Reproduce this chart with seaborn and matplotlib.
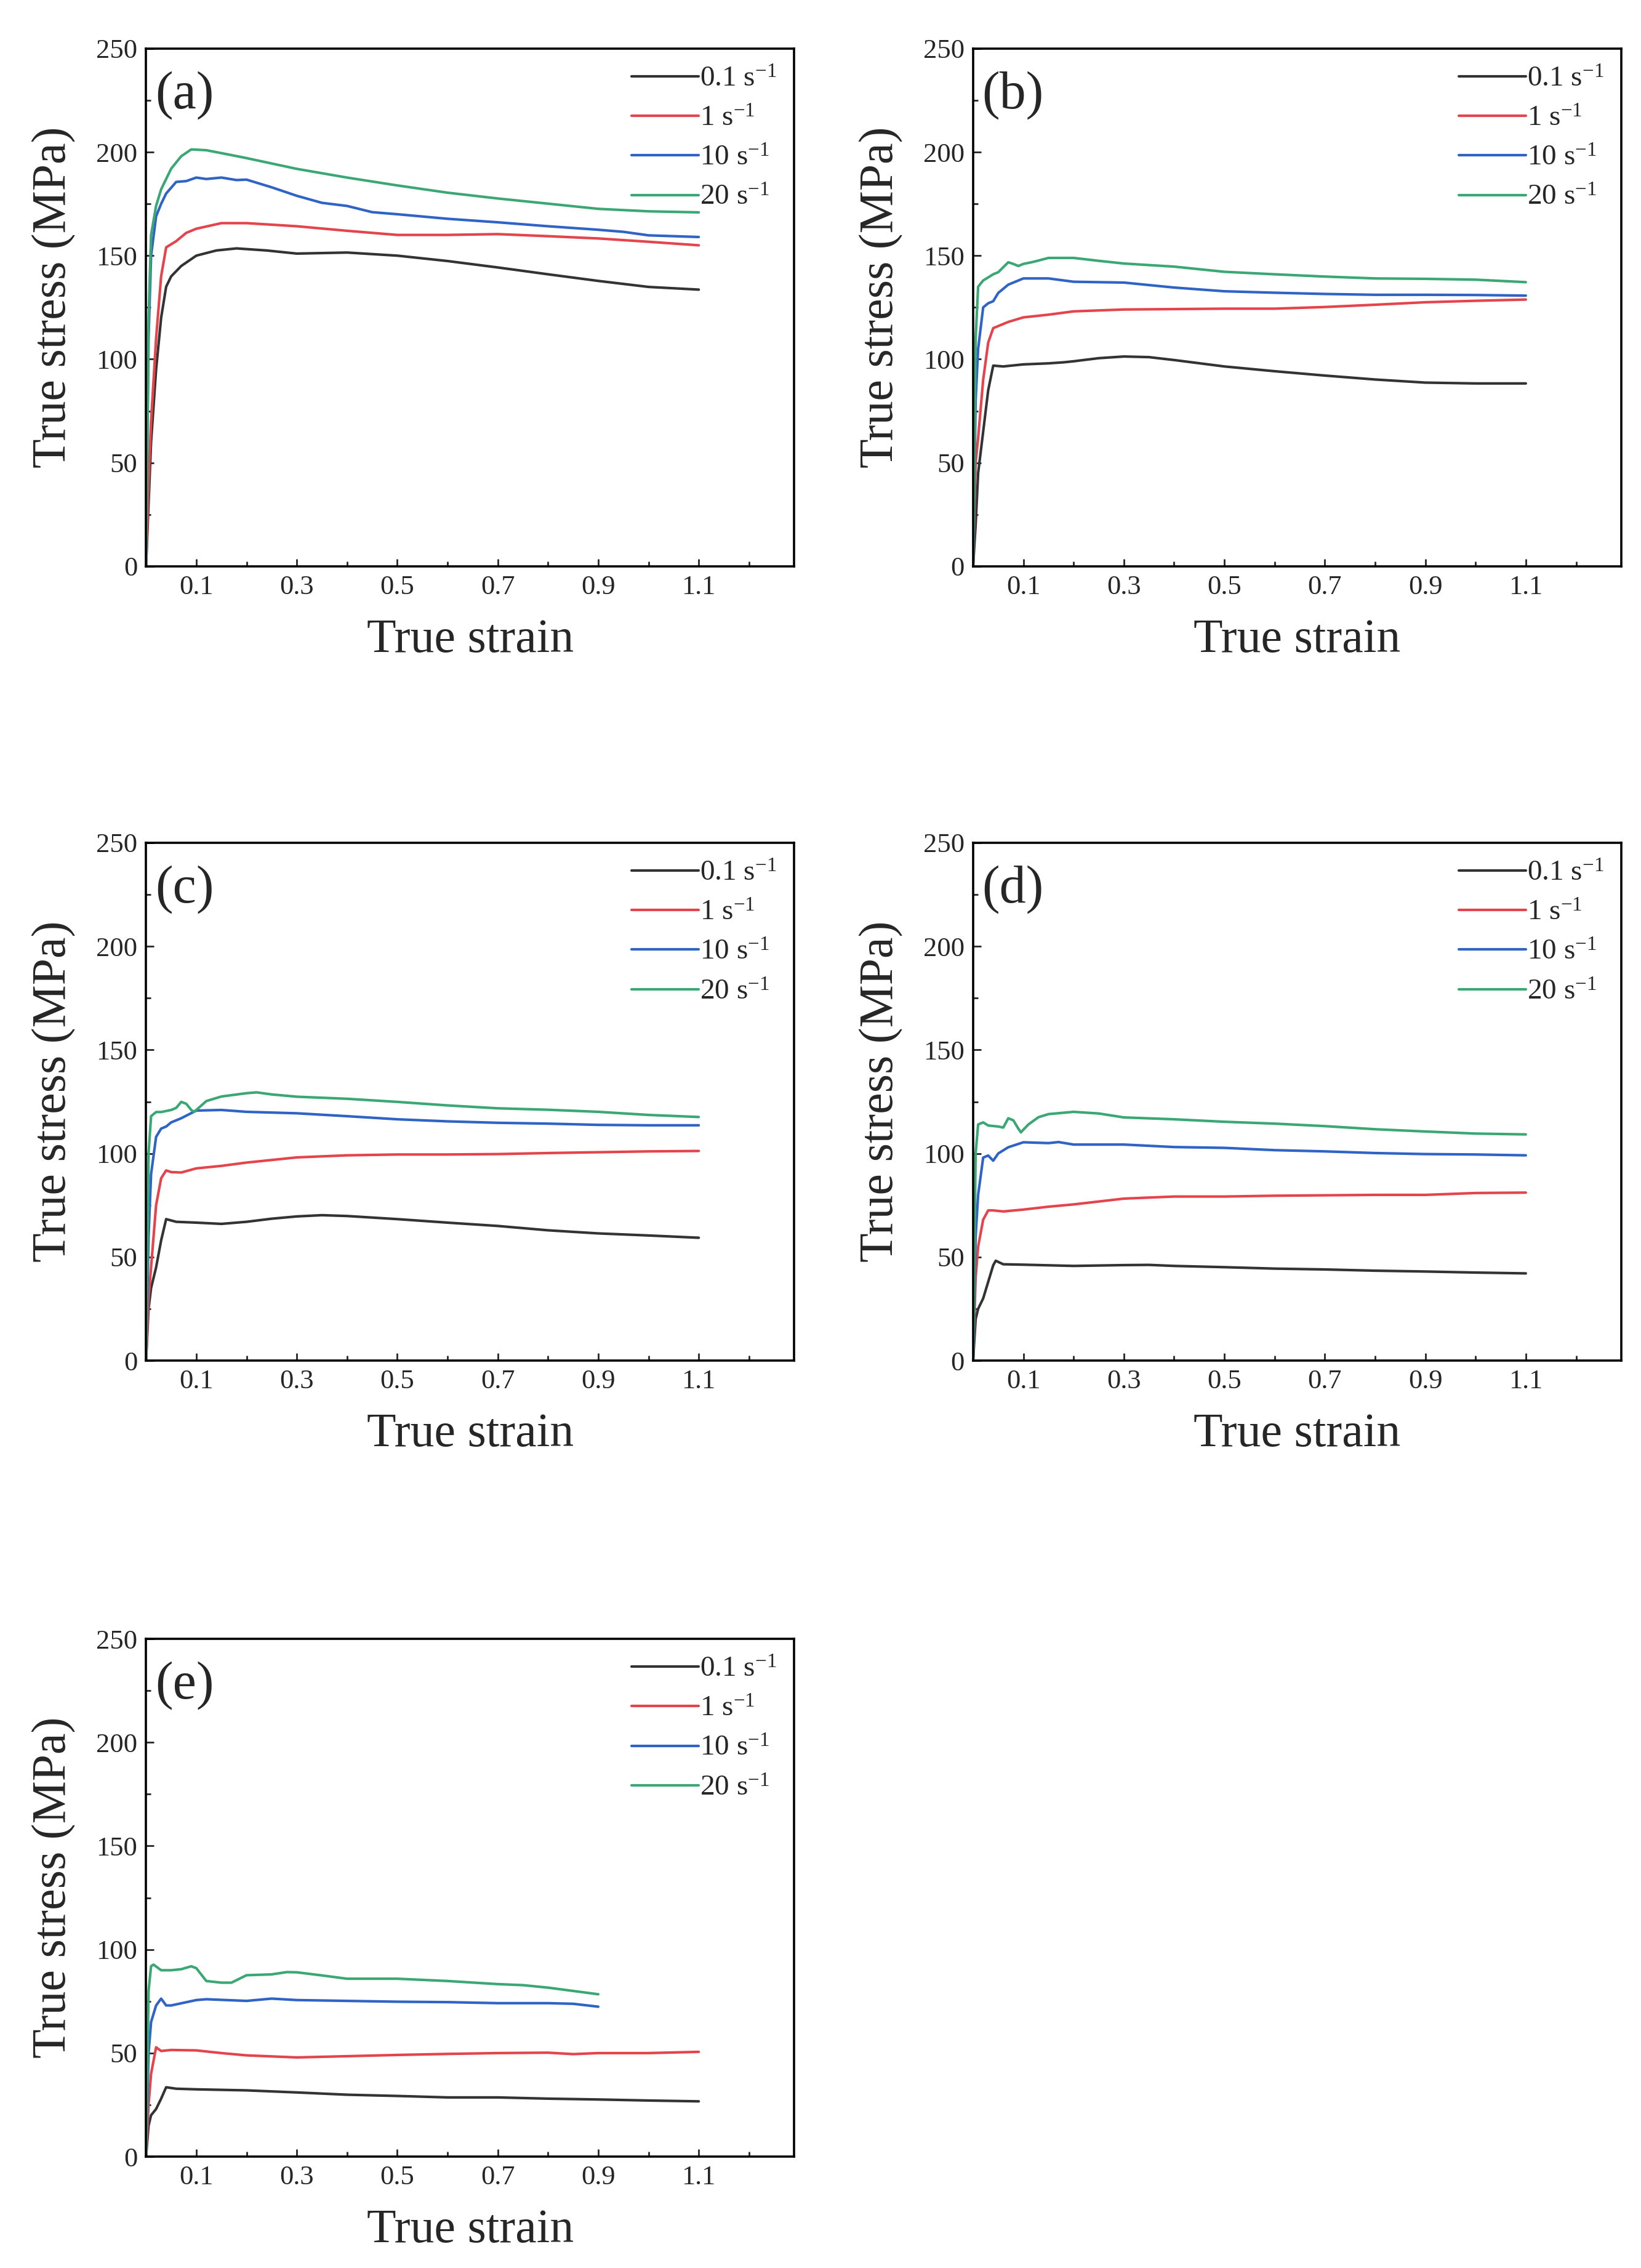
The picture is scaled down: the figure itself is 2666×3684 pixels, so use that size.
import pandas as pd
import seaborn as sns
import matplotlib.pyplot as plt
from matplotlib.lines import Line2D
from matplotlib.ticker import MultipleLocator

# Strain rates and colours
rates = ["0.1", "1", "10", "20"]
rate_labels = [r"0.1 $\mathregular{s^{-1}}$", r"1 $\mathregular{s^{-1}}$",
               r"10 $\mathregular{s^{-1}}$", r"20 $\mathregular{s^{-1}}$"]
rate_colors = ["#333333", "#e4444b", "#2f64c6", "#3aa774"]

# (a)
a01_x = [0, 0.005, 0.01, 0.02, 0.03, 0.04, 0.05, 0.07, 0.1, 0.14, 0.18, 0.24, 0.3, 0.4, 0.5, 0.6, 0.7, 0.8, 0.9, 1.0, 1.1]
a01_y = [0, 30, 60, 95, 120, 135, 140, 145, 150, 152.5, 153.5, 152.5, 151, 151.5, 150, 147.4, 144.3, 141, 137.8, 134.9, 133.6]
a1_x = [0, 0.005, 0.01, 0.02, 0.03, 0.04, 0.06, 0.08, 0.1, 0.15, 0.2, 0.3, 0.4, 0.5, 0.6, 0.7, 0.8, 0.9, 1.0, 1.1]
a1_y = [0, 40, 70, 110, 140, 154, 157, 161, 163, 165.7, 165.7, 164.2, 162, 160, 160, 160.4, 159.4, 158.3, 156.7, 155]
a10_x = [0, 0.005, 0.01, 0.02, 0.03, 0.04, 0.06, 0.08, 0.1, 0.12, 0.15, 0.18, 0.2, 0.25, 0.3, 0.35, 0.4, 0.45, 0.5, 0.6, 0.7, 0.8, 0.9, 0.95, 1.0, 1.1]
a10_y = [0, 110, 150, 169, 175, 180, 185.6, 186, 187.7, 187, 187.7, 186.5, 186.7, 183, 178.9, 175.5, 174, 171, 170, 167.8, 166.1, 164.2, 162.5, 161.5, 159.8, 159]
a20_x = [0, 0.005, 0.01, 0.02, 0.03, 0.05, 0.07, 0.09, 0.12, 0.15, 0.2, 0.3, 0.4, 0.5, 0.6, 0.7, 0.8, 0.9, 1.0, 1.1]
a20_y = [0, 120, 160, 174, 182, 192, 198, 201.3, 200.9, 199.5, 197.1, 191.9, 187.7, 183.9, 180.4, 177.6, 175.1, 172.6, 171.4, 170.9]

# (b)
b01_x = [0, 0.005, 0.01, 0.02, 0.03, 0.04, 0.06, 0.1, 0.15, 0.18, 0.2, 0.25, 0.3, 0.35, 0.4, 0.5, 0.6, 0.7, 0.8, 0.9, 1.0, 1.1]
b01_y = [0, 20, 45, 65, 85, 96.9, 96.5, 97.5, 98, 98.5, 99, 100.5, 101.3, 101, 99.6, 96.5, 94.2, 92.1, 90.2, 88.7, 88.3, 88.3]
b1_x = [0, 0.005, 0.01, 0.02, 0.03, 0.04, 0.05, 0.07, 0.1, 0.15, 0.2, 0.3, 0.4, 0.5, 0.6, 0.7, 0.8, 0.9, 1.0, 1.1]
b1_y = [0, 50, 62, 90, 108, 115, 116, 118, 120.2, 121.5, 123.1, 124, 124.2, 124.4, 124.4, 125.2, 126.3, 127.5, 128.2, 128.8]
b10_x = [0, 0.005, 0.01, 0.02, 0.03, 0.04, 0.05, 0.07, 0.1, 0.15, 0.2, 0.3, 0.4, 0.5, 0.6, 0.7, 0.8, 0.9, 1.0, 1.1]
b10_y = [0, 80, 105, 125, 127, 128, 132, 136, 139, 139, 137.4, 137, 134.6, 132.8, 132.1, 131.5, 131.1, 131.1, 131, 130.7]
b20_x = [0, 0.005, 0.01, 0.02, 0.04, 0.05, 0.07, 0.08, 0.09, 0.1, 0.12, 0.15, 0.2, 0.25, 0.3, 0.4, 0.5, 0.6, 0.7, 0.8, 0.9, 1.0, 1.1]
b20_y = [0, 110, 135, 138, 141, 142, 146.8, 146, 145, 146, 147, 148.9, 148.9, 147.5, 146.2, 144.7, 142.2, 141, 139.9, 139, 138.8, 138.4, 137.2]

# (c)
c01_x = [0, 0.005, 0.01, 0.02, 0.03, 0.04, 0.06, 0.1, 0.15, 0.2, 0.25, 0.3, 0.35, 0.4, 0.5, 0.6, 0.7, 0.8, 0.9, 1.0, 1.1]
c01_y = [0, 25, 35, 45, 58, 68.3, 67, 66.6, 66, 67, 68.5, 69.6, 70.2, 69.8, 68.3, 66.6, 65, 62.9, 61.4, 60.4, 59.3]
c1_x = [0, 0.005, 0.01, 0.02, 0.03, 0.04, 0.05, 0.07, 0.1, 0.15, 0.2, 0.3, 0.4, 0.5, 0.6, 0.7, 0.8, 0.9, 1.0, 1.1]
c1_y = [0, 30, 45, 75, 88, 91.8, 91, 90.8, 92.8, 94, 95.6, 98.1, 99.1, 99.5, 99.5, 99.7, 100.2, 100.6, 101, 101.2]
c10_x = [0, 0.005, 0.01, 0.02, 0.03, 0.04, 0.05, 0.07, 0.1, 0.15, 0.2, 0.3, 0.4, 0.5, 0.6, 0.7, 0.8, 0.9, 1.0, 1.1]
c10_y = [0, 60, 90, 108, 112, 113, 115, 117, 120.7, 121, 120.1, 119.4, 118, 116.5, 115.5, 114.8, 114.4, 113.8, 113.6, 113.6]
c20_x = [0, 0.005, 0.01, 0.02, 0.03, 0.05, 0.06, 0.07, 0.08, 0.09, 0.095, 0.1, 0.12, 0.15, 0.2, 0.22, 0.25, 0.3, 0.4, 0.5, 0.6, 0.7, 0.8, 0.9, 1.0, 1.1]
c20_y = [0, 100, 118, 120, 120, 121, 122, 124.9, 124, 121, 120.1, 121, 125.3, 127.5, 129.1, 129.5, 128.5, 127.4, 126.4, 124.9, 123.2, 121.8, 121.1, 120.1, 118.6, 117.6]

# (d)
d01_x = [0, 0.005, 0.01, 0.02, 0.03, 0.04, 0.045, 0.06, 0.1, 0.2, 0.3, 0.35, 0.4, 0.5, 0.6, 0.7, 0.8, 0.9, 1.0, 1.1]
d01_y = [0, 20, 25, 30, 38, 46, 48.2, 46.5, 46.3, 45.7, 46.1, 46.2, 45.7, 45.1, 44.4, 44, 43.4, 43, 42.5, 42.1]
d1_x = [0, 0.005, 0.01, 0.02, 0.03, 0.04, 0.06, 0.1, 0.15, 0.2, 0.3, 0.4, 0.5, 0.6, 0.7, 0.8, 0.9, 1.0, 1.1]
d1_y = [0, 40, 55, 68, 72.5, 72.5, 72, 72.9, 74.3, 75.4, 78.2, 79.2, 79.2, 79.6, 79.8, 80, 80, 80.9, 81.1]
d10_x = [0, 0.005, 0.01, 0.02, 0.03, 0.04, 0.05, 0.07, 0.1, 0.15, 0.17, 0.2, 0.3, 0.4, 0.5, 0.6, 0.7, 0.8, 0.9, 1.0, 1.1]
d10_y = [0, 60, 80, 98, 99, 96.5, 100, 103, 105.4, 105, 105.5, 104.3, 104.3, 103.1, 102.7, 101.6, 101, 100.2, 99.7, 99.5, 99.1]
d20_x = [0, 0.005, 0.01, 0.02, 0.03, 0.05, 0.06, 0.07, 0.08, 0.09, 0.095, 0.11, 0.13, 0.15, 0.2, 0.25, 0.3, 0.4, 0.5, 0.6, 0.7, 0.8, 0.9, 1.0, 1.1]
d20_y = [0, 100, 114, 115, 113.5, 113, 112.5, 117, 116, 112, 110.2, 114, 117.5, 119, 120.1, 119.3, 117.4, 116.5, 115.3, 114.4, 113.2, 111.7, 110.6, 109.6, 109.2]

# (e)
e01_x = [0, 0.005, 0.01, 0.02, 0.03, 0.04, 0.06, 0.1, 0.2, 0.3, 0.4, 0.5, 0.6, 0.7, 0.8, 0.9, 1.0, 1.1]
e01_y = [0, 15, 20, 23, 28, 33.5, 32.8, 32.5, 32, 31, 29.9, 29.3, 28.6, 28.6, 28, 27.6, 27.1, 26.7]
e1_x = [0, 0.005, 0.01, 0.02, 0.03, 0.05, 0.1, 0.15, 0.2, 0.3, 0.4, 0.5, 0.6, 0.7, 0.8, 0.85, 0.9, 1.0, 1.1]
e1_y = [0, 25, 40, 52.8, 51, 51.5, 51.3, 50, 48.9, 47.9, 48.5, 49.1, 49.6, 50, 50.2, 49.5, 50, 50, 50.6]
e10_x = [0, 0.005, 0.01, 0.02, 0.03, 0.04, 0.05, 0.1, 0.12, 0.2, 0.25, 0.3, 0.4, 0.5, 0.6, 0.7, 0.8, 0.85, 0.9]
e10_y = [0, 50, 65, 73, 76.3, 73, 73, 75.6, 76, 75.2, 76.3, 75.6, 75.2, 74.8, 74.6, 74.1, 74.1, 73.8, 72.4]
e20_x = [0, 0.005, 0.01, 0.015, 0.03, 0.05, 0.07, 0.09, 0.1, 0.12, 0.15, 0.17, 0.2, 0.25, 0.28, 0.3, 0.35, 0.4, 0.5, 0.6, 0.7, 0.75, 0.8, 0.9]
e20_y = [0, 80, 92, 92.7, 90, 90, 90.5, 91.9, 91, 84.8, 84, 84, 87.6, 88, 89.1, 89, 87.5, 85.9, 85.9, 84.8, 83.3, 82.8, 81.6, 78.4]

panels = {
    "(a)": [(a01_x, a01_y), (a1_x, a1_y), (a10_x, a10_y), (a20_x, a20_y)],
    "(b)": [(b01_x, b01_y), (b1_x, b1_y), (b10_x, b10_y), (b20_x, b20_y)],
    "(c)": [(c01_x, c01_y), (c1_x, c1_y), (c10_x, c10_y), (c20_x, c20_y)],
    "(d)": [(d01_x, d01_y), (d1_x, d1_y), (d10_x, d10_y), (d20_x, d20_y)],
    "(e)": [(e01_x, e01_y), (e1_x, e1_y), (e10_x, e10_y), (e20_x, e20_y)],
}

sns.set_style("ticks")
plt.rcParams['font.family'] = ['Liberation Serif', 'DejaVu Serif']
plt.rcParams['mathtext.fontset'] = 'custom'
plt.rcParams['mathtext.rm'] = 'Liberation Serif'
plt.rcParams['mathtext.it'] = 'Liberation Serif:italic'

fig = plt.figure(figsize=(26.66, 36.84), dpi=100)

# axes rectangles (figure fraction)
col_left = [0.089, 0.593]
row_bottom = [0.7503, 0.4001, 0.0491]
ax_w, ax_h = 0.395, 0.2283

palette = dict(zip(rates, rate_colors))

for i, (tag, curves) in enumerate(panels.items()):
    r, c = divmod(i, 2)
    ax = fig.add_axes([col_left[c], row_bottom[r], ax_w, ax_h])

    frames = []
    for rate, (xs, ys) in zip(rates, curves):
        frames.append(pd.DataFrame({"strain": xs, "stress": ys, "rate": rate}))
    df = pd.concat(frames, ignore_index=True)

    sns.lineplot(data=df, x="strain", y="stress", hue="rate", hue_order=rates,
                 palette=palette, estimator=None, sort=False, lw=3.0,
                 legend=False, ax=ax)

    ax.set_xlim(0, 1.29)
    ax.set_ylim(0, 250)
    ax.set_xticks([0.1, 0.3, 0.5, 0.7, 0.9, 1.1])
    ax.set_xticklabels(["0.1", "0.3", "0.5", "0.7", "0.9", "1.1"])
    ax.xaxis.set_minor_locator(MultipleLocator(0.1))
    ax.yaxis.set_major_locator(MultipleLocator(50))
    ax.yaxis.set_minor_locator(MultipleLocator(25))
    ax.tick_params(which="major", direction="in", length=9, width=2,
                   labelsize=32, pad=10, top=False, right=False)
    ax.tick_params(which="minor", direction="in", length=6, width=2,
                   top=False, right=False)
    for sp in ax.spines.values():
        sp.set_linewidth(2.6)
        sp.set_color("black")

    ax.set_xlabel("True strain", fontsize=56, labelpad=22)
    ax.set_ylabel("True stress (MPa)", fontsize=56, labelpad=20)
    ax.yaxis.set_label_coords(-0.108, 0.52)

    ax.text(0.014, 0.91, tag, transform=ax.transAxes, fontsize=62,
            va="center", ha="left")

    handles = [Line2D([], [], color=col, lw=3.0) for col in rate_colors]
    ax.legend(handles, rate_labels, loc="upper right", frameon=False,
              fontsize=34, handlelength=2.3, handletextpad=0.05,
              labelspacing=0.45, borderaxespad=0.2, bbox_to_anchor=(1.0, 1.0))

fig.savefig("out.png", dpi=100)
